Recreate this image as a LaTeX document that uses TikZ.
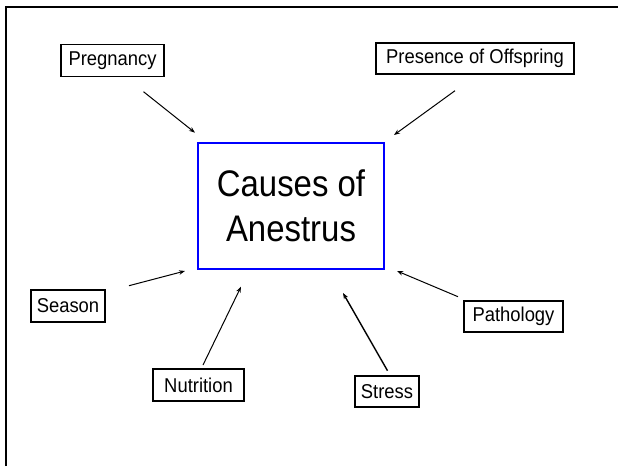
\documentclass[tikz,border=0pt]{standalone}
\usepackage{fontspec}
\setmainfont{Liberation Sans}[FakeStretch=0.92]
\newfontfamily\bigfont{Liberation Sans}[FakeStretch=0.89]
\usetikzlibrary{arrows.meta}
\begin{document}
\begin{tikzpicture}[x=1pt,y=-1pt,
  lbl/.style={draw=black,line width=1.5pt,inner sep=0pt,font=\fontsize{20}{23}\selectfont,anchor=center},
  cause/.style={line width=1pt,-{Stealth[length=6pt,width=4.5pt]}}]
\useasboundingbox (0,0) rectangle (618,466);
\draw[line width=2.2pt] (6,466) -- (6,7) -- (618,7);
\node[draw=blue,line width=2.6pt,minimum width=186pt,minimum height=126pt,inner sep=0pt,align=center,
  font=\bigfont\fontsize{37}{45.5}\selectfont] (c) at (291,206) {Causes of\\Anestrus};
\node[lbl,minimum width=103pt,minimum height=32pt] (preg) at (112.5,60.5) {Pregnancy};
\node[lbl,minimum width=198pt,minimum height=31pt] (off) at (475,58.5) {Presence of Offspring};
\node[lbl,minimum width=74pt,minimum height=32pt] (sea) at (68,306) {Season};
\node[lbl,minimum width=91pt,minimum height=32pt] (nut) at (198.5,385) {Nutrition};
\node[lbl,minimum width=64pt,minimum height=31pt] (str) at (387,391.5) {Stress};
\node[lbl,minimum width=99pt,minimum height=31pt] (pat) at (513.5,316.5) {Pathology};
\coordinate (a1) at (143.5,91.7); \coordinate (b1) at (195,132.7);
\coordinate (a2) at (455,90.7); \coordinate (b2) at (394,135);
\coordinate (a3) at (129,285.7); \coordinate (b3) at (185,271);
\coordinate (a4) at (203,365); \coordinate (b4) at (241,286.7);
\coordinate (a5) at (387.5,370.7); \coordinate (b5) at (343,293);
\coordinate (a6) at (458,296.7); \coordinate (b6) at (397,271);
\draw[cause] (a1) -- (b1);
\draw[cause] (a2) -- (b2);
\draw[cause] (a3) -- (b3);
\draw[cause] (a4) -- (b4);
\draw[cause,line width=1.4pt] (a5) -- (b5);
\draw[cause] (a6) -- (b6);
\end{tikzpicture}
\end{document}
